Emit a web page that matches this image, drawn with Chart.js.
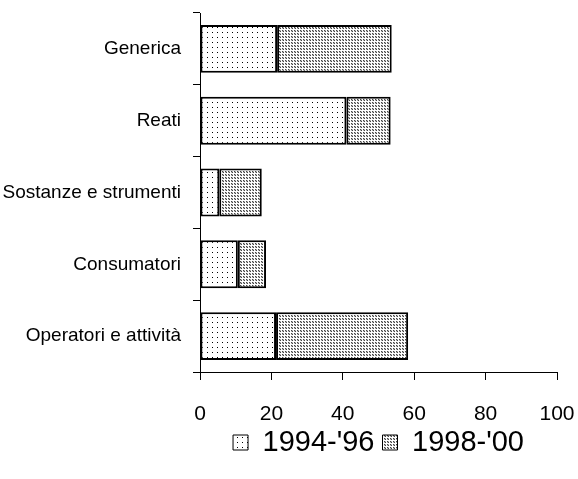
<!DOCTYPE html>
<html>
<head>
<meta charset="utf-8">
<script src="https://cdn.jsdelivr.net/npm/chart.js@4"></script>
<style>
  body { margin: 0; background: #fff; }
  #chart { display: block; }
</style>
</head>
<body>
<canvas id="chart" width="578" height="479"></canvas>
<script>
const categories = ["Generica", "Reati", "Sostanze e strumenti", "Consumatori", "Operatori e attività"];
const seriesNames = ["1994-'96", "1998-'00"];
const values9496 = [21.6, 41, 5.4, 10.6, 21.3];
const values9800 = [32.1, 12.4, 11.9, 7.9, 37];
const xTicks = [0, 20, 40, 60, 80, 100];

const fontFamily = "'Liberation Sans', Arial, sans-serif";

// sparse black dots on white
function sparsePattern() {
  const c = document.createElement("canvas");
  c.width = 5;
  c.height = 5;
  const g = c.getContext("2d");
  g.fillStyle = "#fff";
  g.fillRect(0, 0, 5, 5);
  g.fillStyle = "#000";
  g.fillRect(2, 2, 1, 1);
  return g.createPattern(c, "repeat");
}

// dense grey dots
function densePattern() {
  const c = document.createElement("canvas");
  c.width = 3;
  c.height = 3;
  const g = c.getContext("2d");
  g.fillStyle = "#b8b8b8";
  g.fillRect(0, 0, 3, 3);
  g.fillStyle = "#fff";
  g.fillRect(2, 0, 1, 3);
  g.fillRect(0, 2, 3, 1);
  g.fillStyle = "#444";
  g.fillRect(0, 0, 1, 1);
  g.fillRect(1, 1, 1, 1);
  return g.createPattern(c, "repeat");
}

const ctx = document.getElementById("chart").getContext("2d");

new Chart(ctx, {
  type: "bar",
  data: {
    labels: categories,
    datasets: [
      {
        label: seriesNames[0],
        data: values9496,
        backgroundColor: sparsePattern(),
        borderColor: "#000",
        borderWidth: 2,
        borderSkipped: false,
        barPercentage: 0.667,
        categoryPercentage: 1,
      },
      {
        label: seriesNames[1],
        data: values9800,
        backgroundColor: densePattern(),
        borderColor: "#000",
        borderWidth: 2,
        borderSkipped: false,
        barPercentage: 0.667,
        categoryPercentage: 1,
      },
    ],
  },
  options: {
    indexAxis: "y",
    responsive: false,
    animation: false,
    layout: {
      padding: { left: 0, right: 21, top: 13, bottom: 12 },
    },
    plugins: {
      tooltip: { enabled: false },
      legend: {
        position: "bottom",
        fullSize: false,
        labels: {
          color: "#000",
          font: { family: fontFamily, size: 29 },
          boxWidth: 15,
          boxHeight: 15,
          padding: 8,
          generateLabels: function (chart) {
            const items = Chart.defaults.plugins.legend.labels.generateLabels(chart);
            items.forEach((it) => {
              it.lineWidth = 1;
            });
            return items;
          },
        },
      },
    },
    scales: {
      x: {
        stacked: true,
        min: 0,
        max: 100,
        afterBuildTicks: function (scale) {
          scale.ticks = xTicks.map((v) => ({ value: v }));
        },
        afterFit: function (scale) {
          scale.height = 48;
          scale.paddingLeft = 0;
          scale.paddingRight = 0;
        },
        grid: {
          drawOnChartArea: false,
          color: "#000",
          tickLength: 8,
        },
        border: { color: "#000", width: 1 },
        ticks: {
          color: "#000",
          padding: 22,
          maxRotation: 0,
          font: { family: fontFamily, size: 21 },
        },
      },
      y: {
        stacked: true,
        afterFit: function (scale) {
          scale.width = 200;
          scale.paddingTop = 0;
          scale.paddingBottom = 0;
        },
        grid: {
          offset: true,
          drawOnChartArea: false,
          color: "#000",
          tickLength: 7,
        },
        border: { color: "#000", width: 1 },
        ticks: {
          color: "#000",
          padding: 12,
          font: { family: fontFamily, size: 19 },
        },
      },
    },
  },
});
</script>
</body>
</html>
